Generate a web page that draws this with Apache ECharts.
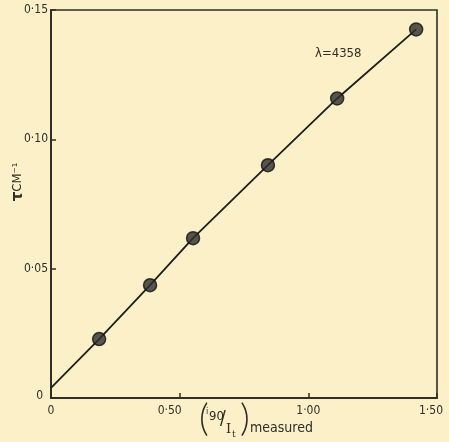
<!DOCTYPE html>
<html>
<head>
<meta charset="utf-8">
<script src="https://cdn.jsdelivr.net/npm/echarts@6/dist/echarts.min.js"></script>
<style>
  html, body { margin: 0; padding: 0; background: #fbf0c8; }
  #chart { width: 449px; height: 442px; }
</style>
</head>
<body>
<div id="chart"></div>
<script>
// Measured ratio (i90/It) and turbidity tau (cm^-1) at lambda = 4358
const ratioMeasured = [0.187, 0.385, 0.552, 0.843, 1.112, 1.419];
const tauValues = [0.0228, 0.0436, 0.0618, 0.090, 0.1158, 0.1425];
// Drawn line starts at the tau axis and runs through the measured points
const lineStartX = 0;
const lineStartY = 0.0039;
const xTicks = [0, 0.5, 1.0, 1.5];
const yTicks = [0, 0.05, 0.10, 0.15];
const waveLabel = 'λ=4358';

const ink = '#2f2e28';
const font = "'Liberation Sans Narrow', 'DejaVu Sans Condensed', 'Liberation Sans', sans-serif";
const parenFont = "300 38px Lato, 'Open Sans', 'DejaVu Sans', sans-serif";

function fmt(v) {
  return v === 0 ? '0' : v.toFixed(2).replace('.', '·');
}

const points = ratioMeasured.map((x, i) => [x, tauValues[i]]);
const linePts = [[lineStartX, lineStartY]].concat(points);

const labelStyle = { color: ink, fontFamily: font, fontSize: 12 };

const chart = echarts.init(document.getElementById('chart'), null, { renderer: 'canvas' });
chart.setOption({
  backgroundColor: '#fbf0c8',
  animation: false,
  grid: {
    left: 51, right: 12, top: 10, bottom: 44,
    outerBoundsMode: 'none', containLabel: false,
    show: true, borderColor: ink, borderWidth: 1.6, backgroundColor: 'transparent'
  },
  xAxis: {
    type: 'value', min: xTicks[0], max: xTicks[xTicks.length - 1], interval: 0.5,
    axisLine: { show: true, lineStyle: { color: ink, width: 2 } },
    axisTick: { show: true, inside: true, length: 5, lineStyle: { color: ink, width: 1.5 } },
    splitLine: { show: false },
    axisLabel: {
      color: ink, fontFamily: font, fontSize: 12, margin: 7,
      formatter: v => {
        if (v === 0.5) return '{a|' + fmt(v) + '}';
        if (v === 1.5) return '{b|' + fmt(v) + '}';
        return '{n|' + fmt(v) + '}';
      },
      rich: {
        n: labelStyle,
        a: Object.assign({ padding: [0, 20, 0, 0] }, labelStyle),
        b: Object.assign({ padding: [0, 12, 0, 0] }, labelStyle)
      }
    }
  },
  yAxis: {
    type: 'value', min: yTicks[0], max: yTicks[yTicks.length - 1], interval: 0.05,
    axisLine: { show: true, lineStyle: { color: ink, width: 2 } },
    axisTick: { show: true, inside: true, length: 5, lineStyle: { color: ink, width: 1.5 } },
    splitLine: { show: false },
    axisLabel: {
      color: ink, fontFamily: font, fontSize: 12, margin: 3,
      formatter: v => v === 0 ? '{z|0}' : '{n|' + fmt(v) + '}',
      rich: {
        n: labelStyle,
        z: Object.assign({ padding: [0, 5, 5, 0] }, labelStyle)
      }
    }
  },
  series: [
    {
      type: 'line', data: linePts, symbol: 'none', z: 2,
      lineStyle: { color: '#1e1e1c', width: 1.8 }
    },
    {
      type: 'scatter', data: points, symbol: 'circle', symbolSize: 13, z: 3,
      itemStyle: { color: '#2e2e2c', borderColor: '#111', borderWidth: 1.5 }
    }
  ],
  graphic: [
    { type: 'text', left: 315, top: 47,
      style: { text: waveLabel, font: "13px " + font, fill: ink } },
    // tau axis name, read bottom to top
    { type: 'text', x: 18, y: 182, rotation: Math.PI / 2,
      style: {
        text: '{t|τ}{c|CM}{s|⁻¹}', align: 'center', verticalAlign: 'middle',
        rich: {
          t: { fontFamily: 'DejaVu Sans', fontWeight: 'bold', fontSize: 15, fill: ink },
          c: { fontFamily: font, fontSize: 13, fill: ink },
          s: { fontFamily: font, fontSize: 13, fill: ink }
        }
      } },
    // ratio axis name
    { type: 'text', x: 199, y: 400, style: { text: '(', font: parenFont, fill: ink } },
    { type: 'text', x: 206, y: 407, style: { text: 'i', font: "9px " + font, fill: ink } },
    { type: 'text', x: 209, y: 410, style: { text: '90', font: "13px " + font, fill: ink } },
    { type: 'text', x: 220, y: 410, style: { text: '/', font: "19px " + font, fill: ink } },
    { type: 'text', x: 226, y: 423, style: { text: 'I', font: "13px 'DejaVu Serif'", fill: ink } },
    { type: 'text', x: 232, y: 430, style: { text: 't', font: "9px 'DejaVu Serif'", fill: ink } },
    { type: 'text', x: 240, y: 400, style: { text: ')', font: parenFont, fill: ink } },
    { type: 'text', x: 250, y: 421, style: { text: 'measured', font: "14px " + font, fill: ink } }
  ]
});
</script>
</body>
</html>
